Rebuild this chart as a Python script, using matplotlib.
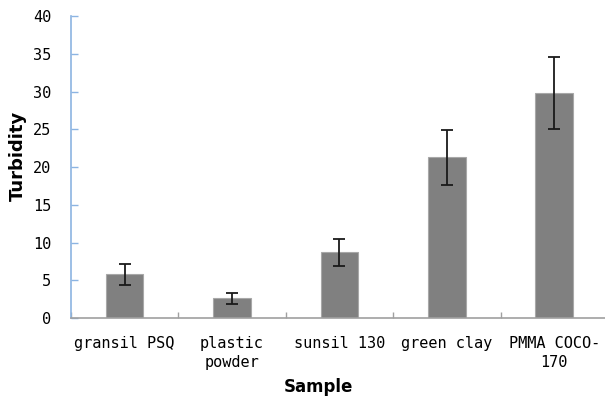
import numpy as np
import matplotlib.pyplot as plt

samples = ["gransil PSQ", "plastic\npowder", "sunsil 130", "green clay", "PMMA COCO-\n170"]
turbidity = [5.8, 2.6, 8.7, 21.3, 29.8]
errors = [1.4, 0.7, 1.75, 3.65, 4.75]
y_ticks = [0, 5, 10, 15, 20, 25, 30, 35, 40]

fig = plt.figure(figsize=(6.05, 4.04), dpi=100)
ax = fig.add_axes([0.117, 0.213, 0.888, 0.747])

x = np.arange(len(samples))
ax.bar(x, turbidity, width=0.35, color="#808080", edgecolor="#a8a8a8", linewidth=0.8, zorder=2)
ax.errorbar(x, turbidity, yerr=errors, fmt="none", ecolor="#1a1a1a", elinewidth=1.3,
            capsize=4, capthick=1.3, zorder=3)

ax.set_xlim(-0.5, len(samples) - 0.5)
ax.set_ylim(0, 40)
ax.set_yticks(y_ticks)
ax.set_yticklabels([str(t) for t in y_ticks], family="DejaVu Sans Mono", fontsize=11)

# category boundaries get the tick marks, labels sit in between
ax.set_xticks(np.arange(len(samples) + 1) - 0.5)
ax.set_xticklabels([])
ax.tick_params(axis="x", direction="in", length=4, color="#a0a0a0", width=1)
ax.tick_params(axis="y", direction="in", length=5, color="#8cb4e2", width=1, pad=14)
for i, s in enumerate(samples):
    ax.text(i, -2.4, s, ha="center", va="top", family="DejaVu Sans Mono",
            fontsize=11, linespacing=1.3)

for side in ["top", "right"]:
    ax.spines[side].set_visible(False)
ax.spines["left"].set_color("#8cb4e2")
ax.spines["left"].set_linewidth(1.2)
ax.spines["bottom"].set_color("#a0a0a0")
ax.spines["bottom"].set_linewidth(1.2)

fig.text(0.03, 0.613, "Turbidity", rotation=90, ha="center", va="center",
         fontsize=13, fontweight="bold")
fig.text(0.527, 0.042, "Sample", ha="center", va="center",
         fontsize=12, fontweight="bold")

plt.savefig("out.png", dpi=100)
